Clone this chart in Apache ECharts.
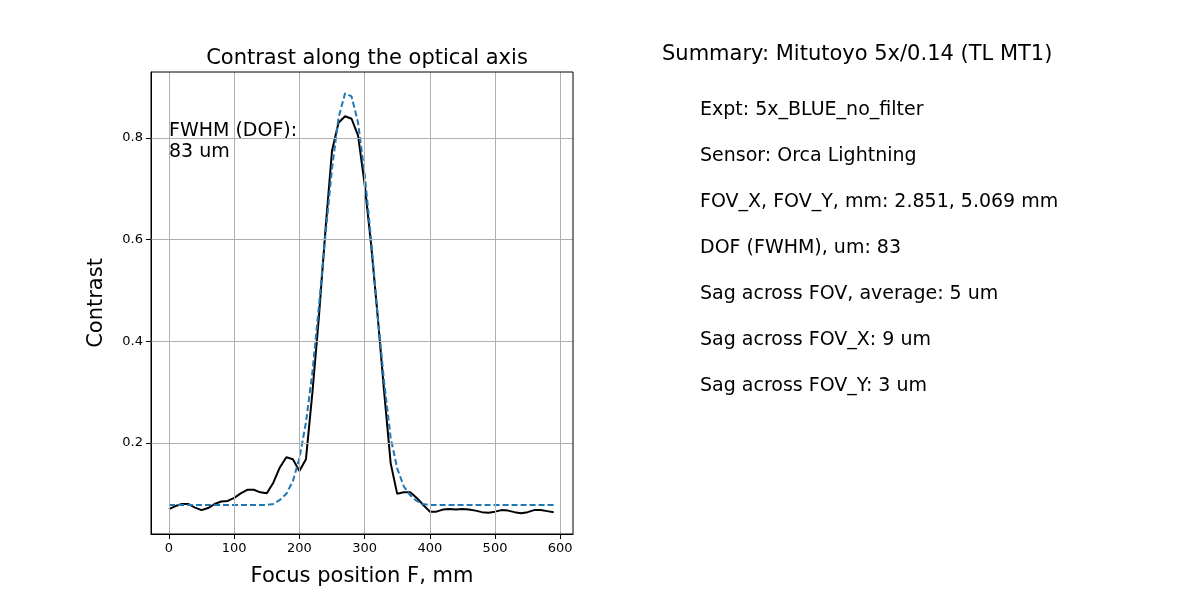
<!DOCTYPE html>
<html>
<head>
<meta charset="utf-8">
<script src="https://cdn.jsdelivr.net/npm/echarts@6/dist/echarts.min.js"></script>
<style>body{margin:0;background:#fff}#main{width:1200px;height:600px}</style>
</head>
<body>
<div id="main"></div>
<script>
// focus positions, 10 mm steps
const positions = [];
for (let i = 0; i < 60; i++) positions.push(i * 10);

// measured contrast (black)
const measured = [0.070, 0.076, 0.080, 0.080, 0.073, 0.068, 0.072, 0.080, 0.085, 0.086,
  0.092, 0.101, 0.108, 0.108, 0.103, 0.101, 0.122, 0.152, 0.172, 0.168,
  0.145, 0.168, 0.300, 0.450, 0.620, 0.775, 0.830, 0.843, 0.838, 0.805,
  0.710, 0.590, 0.450, 0.300, 0.160, 0.100, 0.103, 0.103, 0.092, 0.078,
  0.065, 0.065, 0.069, 0.070, 0.069, 0.070, 0.069, 0.067, 0.064, 0.063,
  0.065, 0.068, 0.067, 0.064, 0.062, 0.064, 0.068, 0.068, 0.066, 0.064];

// fitted curve (blue dashed)
const fitted = [0.078, 0.078, 0.078, 0.078, 0.078, 0.078, 0.078, 0.078, 0.078, 0.078,
  0.078, 0.078, 0.078, 0.078, 0.078, 0.078, 0.080, 0.088, 0.100, 0.125,
  0.170, 0.240, 0.340, 0.470, 0.610, 0.740, 0.840, 0.888, 0.882, 0.830,
  0.730, 0.600, 0.450, 0.320, 0.210, 0.150, 0.115, 0.097, 0.086, 0.080,
  0.078, 0.078, 0.078, 0.078, 0.078, 0.078, 0.078, 0.078, 0.078, 0.078,
  0.078, 0.078, 0.078, 0.078, 0.078, 0.078, 0.078, 0.078, 0.078, 0.078];

const xTicks = [0, 100, 200, 300, 400, 500, 600];
const yTicks = [0.2, 0.4, 0.6, 0.8];

const summaryTitle = 'Summary: Mitutoyo 5x/0.14 (TL MT1)';
const summaryLines = [
  'Expt: 5x_BLUE_no_filter',
  'Sensor: Orca Lightning',
  'FOV_X, FOV_Y, mm: 2.851, 5.069 mm',
  'DOF (FWHM), um: 83',
  'Sag across FOV, average: 5 um',
  'Sag across FOV_X: 9 um',
  'Sag across FOV_Y: 3 um'
];

const font = 'DejaVu Sans';
const chart = echarts.init(document.getElementById('main'));

const graphics = [
  { type: 'text', left: 662, top: 44, style: { text: summaryTitle, font: '21px ' + font, fill: '#000' } },
  { type: 'text', left: 169, top: 121, style: { text: 'FWHM (DOF):\n83 um', font: '19px ' + font, fill: '#000', lineHeight: 21 } },
  { type: 'rect', shape: { x: 151, y: 72, width: 422, height: 462 },
    style: { fill: 'none', stroke: '#000', lineWidth: 1 }, silent: true, z: 10 }
];
summaryLines.forEach((t, i) => {
  graphics.push({ type: 'text', left: 700, top: 101 + i * 46, style: { text: t, font: '19px ' + font, fill: '#000' } });
});

const gridLine = { color: '#b0b0b0', type: 'solid', width: 1 };

chart.setOption({
  animation: false,
  title: {
    text: 'Contrast along the optical axis',
    left: 362, top: 43, textAlign: 'center',
    textStyle: { fontFamily: font, fontSize: 21, fontWeight: 'normal', color: '#000' }
  },
  grid: { left: 151, top: 72, width: 422, height: 462 },
  xAxis: {
    type: 'value', min: -27.6, max: 619.6,
    name: 'Focus position F, mm', nameLocation: 'middle', nameGap: 32,
    nameTextStyle: { fontFamily: font, fontSize: 21, color: '#000' },
    axisLine: { onZero: false, lineStyle: { color: '#000' } },
    axisTick: { show: true, length: 5, lineStyle: { color: '#000' }, customValues: xTicks },
    axisLabel: { fontFamily: font, fontSize: 13, color: '#000', customValues: xTicks },
    splitLine: { show: false }
  },
  yAxis: {
    type: 'value', min: 0.021, max: 0.930,
    name: 'Contrast', nameLocation: 'middle', nameGap: 44,
    nameTextStyle: { fontFamily: font, fontSize: 21, color: '#000' },
    axisLine: { show: true, onZero: false, lineStyle: { color: '#000' } },
    axisTick: { show: true, length: 5, lineStyle: { color: '#000' }, customValues: yTicks },
    axisLabel: { fontFamily: font, fontSize: 13, color: '#000', customValues: yTicks,
      formatter: v => v.toFixed(1) },
    splitLine: { show: false }
  },
  graphic: graphics,
  series: [
    {
      type: 'line', data: positions.map((x, i) => [x, fitted[i]]), showSymbol: false,
      lineStyle: { color: '#1f77b4', width: 2, type: [6, 3] }, z: 3
    },
    {
      type: 'line', data: positions.map((x, i) => [x, measured[i]]), showSymbol: false,
      lineStyle: { color: '#000', width: 2 }, z: 2
    },
    {
      // grid lines at the ticks
      type: 'line', data: [], z: 1, markLine: {
        silent: true, symbol: 'none', label: { show: false }, lineStyle: gridLine,
        data: yTicks.map(v => ({ yAxis: v })).concat(xTicks.map(v => ({ xAxis: v })))
      }
    }
  ]
});
</script>
</body>
</html>
